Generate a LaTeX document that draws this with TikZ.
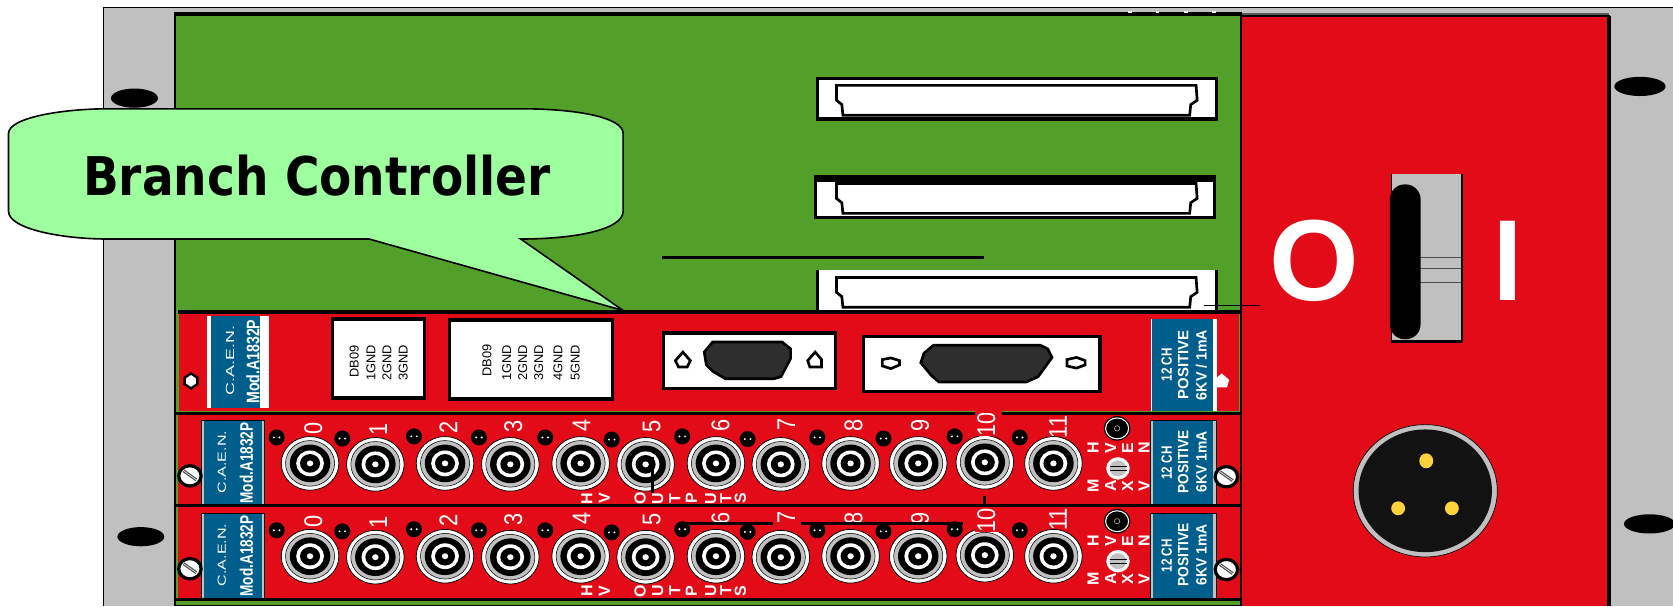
\documentclass[tikz,border=0pt]{standalone}
\usepackage{tikz}
\usepackage{xcolor}
\usepackage{fontspec}
\setmainfont{Liberation Sans}
\newfontfamily\bubblefont{DejaVu Sans Condensed}[BoldFont={DejaVu Sans Condensed Bold}]
\definecolor{rackgray}{HTML}{C0C0C0}
\definecolor{boardgreen}{HTML}{52A02A}
\definecolor{panelred}{HTML}{E20B17}
\definecolor{platblue}{HTML}{005E8C}
\definecolor{bubblegreen}{HTML}{9DFF9D}
\definecolor{pingold}{HTML}{FFD23C}
\tikzset{
  hole/.style={fill=black,draw=none},
  silk/.style={text=white,inner sep=0pt,rotate=90},
  dbtext/.style={text=black,inner sep=0pt,rotate=90,font=\fontsize{12}{12}\selectfont},
  numtext/.style={silk,xscale=0.85,font=\fontsize{24}{24}\selectfont},
  hvtext/.style={silk,font=\bfseries\fontsize{15}{15}\selectfont},
  platebig/.style={silk,font=\bfseries\fontsize{14}{14}\selectfont},
}
% one BNC socket
\newcommand{\bncsocket}[2]{%
  \begin{scope}[shift={(#1,#2)},yscale=0.93]
    \fill[white,draw=black,line width=0.7pt] (0,0) circle (27);
    \fill[rackgray,draw=black,line width=0.5pt] (0,0) circle (23);
    \fill[black] (0,0) circle (19);
    \fill[white] (0,0) circle (13);
    \fill[black] (0,0) circle (9.4);
    \fill[white] (0,0) circle (3);
  \end{scope}}
% small indicator
\newcommand{\ledspot}[2]{%
  \fill[black] (#1,#2) circle (7.5);
  \fill[white] (#1-2.6,#2) circle (1);
  \fill[white] (#1+2.6,#2) circle (1);}
% slotted screw
\newcommand{\slotscrew}[2]{%
  \begin{scope}[shift={(#1,#2)}]
    \fill[white,draw=black,line width=3pt] (0,0) ellipse (10.5 and 9.5);
    \draw[black!70,line width=1pt] (-6.5,-4) -- (5.5,4.5);
    \draw[black!70,line width=1pt] (-5.5,-5.5) -- (6.5,3);
  \end{scope}}
% lower module, second argument is its top edge, third where the ten stands
\newcommand{\modulerow}[3]{%
  \fill[panelred] (167,#2) rectangle (1162,#2+86);
  % plates
  \fill[platblue] (189,#2+6) rectangle (247.5,#2+85);
  \fill[rackgray] (189,#2+6) rectangle (191,#2+85);
  \fill[rackgray] (245.5,#2+6) rectangle (247.5,#2+85);
  \draw[black,line width=0.5pt] (189,#2+85) -- (189,#2+6) -- (247.5,#2+6) -- (247.5,#2+85);
  \fill[platblue] (1078.5,#2+6) rectangle (1139.5,#2+85);
  \fill[rackgray] (1078.5,#2+6) rectangle (1081,#2+85);
  \fill[rackgray] (1137,#2+6) rectangle (1139.5,#2+85);
  \draw[black,line width=0.5pt] (1078.5,#2+85) -- (1078.5,#2+6) -- (1139.5,#2+6) -- (1139.5,#2+85);
  \node[silk,xscale=1.37,font=\fontsize{11}{11}\selectfont] (caen#1) at (208,#2+45) {C.A.E.N.};
  \node[silk,xscale=0.75,font=\bfseries\fontsize{17}{17}\selectfont] (mod#1) at (231,#2+46) {Mod.A1832P};
  \node[platebig,xscale=0.78] (chan#1) at (1093.5,#2+46) {12 CH};
  \node[platebig,xscale=0.92] (pos#1) at (1109,#2+45) {POSITIVE};
  \node[platebig,xscale=0.93] (volt#1) at (1126,#2+45) {6KV 1mA};
  % sockets and indicators
  \foreach \cx/\cy in {290.6/46.3,351.8/47.2,417.1/46.3,478.3/47.2,544.2/46.3,605.1/47.2,671/46.3,731.8/47.2,797.2/46.3,860.6/46.3,923/45.3,987.3/46.3}
    {\bncsocket{\cx}{#2+\cy}}
  \foreach \lx/\ly in {259.3/22,320.8/23,388/21,448.9/22,511/22,573.3/24,639.4/21,700.7/23.5,766/22,828/23,894.8/21,955.7/22}
    {\ledspot{\lx}{#2+\ly}}
  % channel numbers
  \foreach \nx/\ny/\nl in {293.7/13.5/0,354.6/14.5/1,420.2/13/2,481/12/3,545/10.5/4,610.8/12/5,675.3/10.5/6,737/10/7,800/10.5/8,862.3/10.5/9,991.6/12/11}
    {\node[numtext] (num#1\nl) at (\nx,#2+\ny) {\nl};}
  \fill[panelred] (914,#2-1) rectangle (939.5,#2+#3+11);
  \node[numtext] (num#110) at (924.5,#2+#3) {10};
  % bottom letters
  \begin{scope}
    \clip (167,#2) rectangle (1162,#2+85);
    \foreach \hx/\hl in {550/H,566.4/V,600/O,616.4/U,632.6/T,648/P,666/U,680.2/T,694/S}
      {\node[hvtext] at (\hx,#2+79) {\hl};}
  \end{scope}
  \foreach \hx/\hl in {1024.6/H,1041/V,1056.9/E,1072.3/N}
    {\node[hvtext] (hv#1\hl) at (\hx,#2+32) {\hl};}
  \foreach \hx/\hl in {1024.6/M,1041/A,1056.9/X,1072.3/V}
    {\node[hvtext] (max#1\hl) at (\hx,#2+67.5) {\hl};}
  % HV lamp and trimmer
  \fill[black] (1047,#2+13.5) ellipse (12.5 and 11.5);
  \draw[white,line width=1pt] (1047,#2+13.5) ellipse (10.8 and 9.8);
  \draw[rackgray,line width=0.5pt] (1047,#2+13.5) circle (2.5);
  \fill[white] (1047.8,#2+51) ellipse (11 and 10.5);
  \fill[rackgray] (1047.8,#2+51) ellipse (8 and 7.5);
  \draw[black,line width=0.6pt] (1040,#2+49.5) -- (1056,#2+49.5) (1040,#2+52.5) -- (1056,#2+52.5);
  \slotscrew{178}{#2+58}
  \slotscrew{1149.4}{#2+58.8}}
\begin{document}
\begin{tikzpicture}[x=1pt,y=-1pt]
\useasboundingbox (0,0) rectangle (1568,568);
% rack and ears
\fill[rackgray] (97,7) rectangle (1568,568);
\draw[black,line width=1.5pt] (97,568) -- (97,7) -- (1568,7);
\fill[hole] (126,92) ellipse (22 and 9);
\fill[hole] (132,503) ellipse (22 and 9);
\fill[hole] (1537,81) ellipse (24 and 9);
\fill[hole] (1546,491) ellipse (24 and 9);
% board and power unit
\fill[boardgreen] (164,13) rectangle (1163,568);
\fill[panelred] (1163,15) rectangle (1508,568);
\fill[black] (164,11) rectangle (1163,15);
\foreach \tx in {1059,1085,1111.6,1137.8}
  {\fill[white] (\tx-1.5,10) rectangle (\tx+1.5,12);}
\fill[black!65] (1163,12) rectangle (1508,14);
\draw[black,line width=2pt] (1163,15) -- (1509,15);
\draw[black,line width=1.5pt] (164,11) -- (164,568);
\draw[black,line width=2pt] (1163,11) -- (1163,568);
\draw[black,line width=3pt] (1508,15) -- (1508,568);
% backplane sockets
\fill[white,draw=black,line width=3pt] (766,73.5) rectangle (1140,111.5);
\fill[white,draw=black,line width=3pt] (764,165.5) rectangle (1138,203.5);
\draw[black,line width=6pt] (762.5,168) -- (1139.5,168);
\fill[white] (766,253) rectangle (1140,292);
\draw[black,line width=3pt] (766,253) -- (766,292) (1140,253) -- (1140,292);
\foreach \sy in {73,165,253}
  {\draw[black,line width=2.5pt] (784,\sy+7) -- (1121,\sy+7) -- (1122,\sy+21) -- (1116,\sy+25) -- (1115,\sy+35) -- (790,\sy+35) -- (789,\sy+25) -- (784,\sy+21) -- cycle;}
\draw[black,line width=2.5pt] (620.8,241.2) -- (922.3,241.2);
% power switch
\fill[rackgray] (1304,163) rectangle (1370,320);
\draw[black,line width=1.5pt] (1304,163) -- (1304,320) -- (1370,320) -- (1370,163);
\draw[black,line width=3pt] (1304,320) -- (1370,320);
\foreach \ly in {241,252,264.5}
  {\draw[black!70,line width=1pt] (1320,\ly) -- (1369,\ly);}
\fill[black,rounded corners=14pt] (1302.6,172.8) rectangle (1331.4,318);
\node[text=white,inner sep=0pt,anchor=base,font=\bfseries\fontsize{108}{108}\selectfont] (offmark) at (1231.5,282) {O};
\node[text=white,inner sep=0pt,anchor=base,xscale=0.9,font=\bfseries\fontsize{108}{108}\selectfont] (onmark) at (1413.5,281.5) {I};
% mains inlet
\fill[rackgray,draw=black,line width=0.6pt] (1335.8,460) ellipse (67.5 and 62);
\fill[black!93] (1335.8,460) ellipse (62.5 and 57.5);
\fill[pingold] (1336.7,431.9) ellipse (6.5 and 7);
\fill[pingold] (1310.4,476.4) ellipse (6.5 and 6.5);
\fill[pingold] (1360.75,476.4) ellipse (6.5 and 6.5);
% modules
\modulerow{a}{388}{9.5}
\modulerow{b}{475}{12.5}
\fill[boardgreen] (167,563) rectangle (1162,567);
\draw[black,line width=2.5pt] (164,474) -- (1162,474);
\draw[black,line width=2.5pt] (164,562) -- (1162,562);
\draw[black,line width=1pt] (164,567.5) -- (1162,567.5);
% branch controller module
\fill[panelred,draw=boardgreen,line width=1pt] (167,292) rectangle (1162,386);
\draw[black,line width=2pt] (164,387.5) -- (914,387.5) (939.5,387.5) -- (1162,387.5);
\fill[panelred] (914,385.3) rectangle (939.5,387.5);
\draw[black,line width=3.5pt] (167,292.5) -- (1162,292.5);
\fill[white] (194,296) rectangle (252.5,382.5);
\fill[platblue] (198,296) rectangle (244,382.5);
\node[silk,xscale=1.52,font=\fontsize{11}{11}\selectfont] (caentop) at (215.6,338) {C.A.E.N.};
\node[silk,xscale=0.78,font=\bfseries\fontsize{17}{17}\selectfont] (modtop) at (237,339) {Mod.A1832P};
\fill[white,draw=black,line width=3pt] (312,299) rectangle (398,373);
\node[dbtext] (dba) at (332,339) {DB09};
\foreach \dx/\dl in {347.6/1GND,362.7/2GND,378/3GND}
  {\node[dbtext] (dba\dl) at (\dx,340) {\dl};}
\fill[white,draw=black,line width=3pt] (421,300) rectangle (574,374);
\node[dbtext] (dbb) at (456.5,338) {DB09};
\foreach \dx/\dl in {475/1GND,490/2GND,505/3GND,523/4GND,539/5GND}
  {\node[dbtext] (dbb\dl) at (\dx,340) {\dl};}
% sub-d plates
\fill[white,draw=black,line width=3pt] (622,312) rectangle (783,364);
\fill[black!82,draw=black,line width=2.5pt] (668,320.5) -- (733,320.5) -- (741,327) -- (741,336) -- (732,353) -- (725,355) -- (680,355) -- (668,348) -- (662,342) -- (660,330) -- cycle;
\fill[white,draw=black,line width=2.5pt] (640,330) -- (647,338) -- (644,344) -- (636,344) -- (633,338) -- cycle;
\fill[white,draw=black,line width=2.5pt] (764,330) -- (770,337) -- (770,344) -- (759,344) -- (757,338) -- cycle;
\fill[white,draw=black,line width=3pt] (809,315) rectangle (1031,367);
\fill[black!82,draw=black,line width=2.5pt] (875,323.5) -- (975,323.5) -- (982,327) -- (986,335) -- (973,353) -- (962,358) -- (880,358) -- (873,352) -- (863,340) -- (866,331) -- cycle;
\fill[white,draw=black,line width=2.5pt] (827,337) -- (835,335.5) -- (843,338) -- (843,342) -- (835,345.5) -- (827,343) -- cycle;
\fill[white,draw=black,line width=2.5pt] (1000,337) -- (1009,335) -- (1017,338) -- (1017,342) -- (1009,345) -- (1000,343) -- cycle;
\fill[white] (1079,299) rectangle (1140.8,385);
\fill[platblue] (1080,299) rectangle (1137,385);
\node[platebig,xscale=0.78] (chantop) at (1093.5,342) {12 CH};
\node[platebig,xscale=1] (postop) at (1109,342) {POSITIVE};
\node[platebig,xscale=0.95] (volttop) at (1126,342) {6KV / 1mA};
\fill[white,draw=black,line width=2.2pt] (179,350) -- (185,354) -- (185,360) -- (179,364) -- (173,360) -- (173,354) -- cycle;
\fill[white] (1145,350) -- (1152,356) -- (1150,363) -- (1140,363) -- (1138,356) -- cycle;
% stray lines
\draw[black,line width=1.5pt] (1128.5,286.5) -- (1180.5,286.5);
\draw[black,line width=2.5pt] (611.4,428) -- (611.4,462);
\draw[black,line width=2.5pt] (922.7,465) -- (922.7,473);
\draw[black,line width=2.5pt] (640.7,490.5) -- (724.6,490.5);
\draw[black,line width=2.5pt] (750.5,490.5) -- (902.6,490.5);
% callout
\fill[bubblegreen,draw=black,line width=1.5pt] (8,125) .. controls (8,110) and (60,102) .. (100,102) -- (490,102) .. controls (540,102) and (584,110) .. (584,125) -- (584,198) .. controls (584,215) and (540,224) .. (488,224) -- (584,291) -- (346,224) -- (100,224) .. controls (60,224) and (8,215) .. (8,198) -- cycle;
\node[inner sep=0pt,xscale=0.98,font=\bubblefont\bfseries\fontsize{50}{50}\selectfont] (bubblelabel) at (297,165) {Branch Controller};
\end{tikzpicture}
\end{document}
